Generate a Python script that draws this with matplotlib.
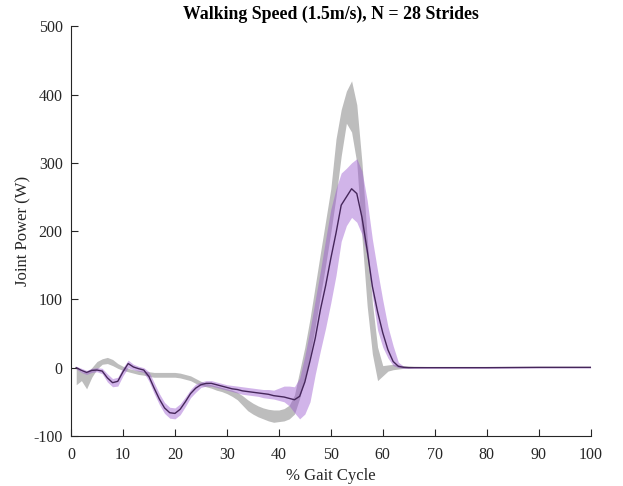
import numpy as np
import matplotlib
matplotlib.use("Agg")
import matplotlib.pyplot as plt

# =========================
# Data
# =========================
gait = list(range(1, 67)) + [70, 80, 90, 100]

power_mean = [
    0, -4, -7, -4, -3.5, -5, -15, -22, -20, -6,
    6, 1, -1.5, -3.5, -13, -30, -46, -59, -66, -67,
    -61, -50, -38, -30, -25, -23, -23, -25, -27, -29,
    -31, -32, -34, -35, -36, -37, -38, -39, -41, -42,
    -43, -45, -47, -42, -21, 10, 43, 85, 120, 160,
    197, 238, 250, 262, 255, 220, 172, 119, 82, 51,
    26, 9, 2, 0.5, 0, 0, 0, 0, 0.5, 0.5,
]
power_hi = [
    2, -1, -4, -1, 0, -1, -9, -16, -14, 0,
    11, 5, 2, 0, -6, -22, -38, -51, -58, -59,
    -53, -43, -32, -24, -21, -19, -19, -21, -23, -25,
    -26, -27, -28, -29, -30, -31, -32, -32, -33, -30,
    -27, -27, -28, -15, 17, 56, 99, 142, 188, 232,
    262, 285, 292, 300, 306, 288, 245, 188, 142, 99,
    60, 32, 8, 2, 1, 1, 1, 1, 1, 1,
]
power_lo = [
    -2, -7, -10, -7, -6, -9, -21, -28, -27, -12,
    0, -3, -5, -7, -20, -38, -54, -67, -74, -75,
    -69, -57, -44, -36, -29, -27, -27, -29, -31, -33,
    -35, -37, -39, -40, -41, -42, -44, -45, -46, -48,
    -50, -56, -66, -75, -68, -50, -10, 25, 58, 95,
    135, 185, 208, 220, 213, 195, 163, 105, 55, 30,
    14, 3, 0, -1, -1, -1, -1, -1, -0.5, -0.5,
]

# reference (normative) band
ref_hi = [
    0, -6, -7, 0, 9, 13, 15, 12, 6, 2,
    -1, -3, -4, -5, -6, -7, -7, -7, -7, -7,
    -8, -10, -12, -16, -20, -23, -25, -27, -29, -31,
    -33, -36, -41, -47, -52, -56, -59, -61, -62, -62,
    -60, -55, -40, -5, 30, 72, 120, 168, 215, 262,
    335, 378, 405, 420, 385, 300, 190, 95, 30, 3,
    4, 5, 4, 3, 2.5, 2, 1.5, 1, 1, 1,
]
ref_lo = [
    -25, -19, -31, -14, -2, 5, 6, 3, -1, -4,
    -6, -8, -10, -11, -13, -14, -14, -14, -14, -14,
    -15, -17, -19, -23, -26, -28, -30, -33, -35, -38,
    -42, -47, -55, -63, -68, -72, -75, -78, -80, -79,
    -78, -75, -68, -45, -15, 18, 60, 105, 150, 198,
    250, 310, 358, 345, 300, 190, 90, 20, -19, -12,
    -5, -3, -2, -1, -0.5, 0, 0, 0, 0, 0,
]

x_ticks = list(range(0, 101, 10))
y_ticks = list(range(-100, 501, 100))

# =========================
# Plot
# =========================
plt.rcParams["font.family"] = ["Liberation Serif", "DejaVu Serif"]
plt.rcParams["axes.unicode_minus"] = False

fig = plt.figure(figsize=(6.23, 4.86), dpi=100)
ax = fig.add_axes([0.114, 0.103, 0.834, 0.843])

ax.fill_between(gait, ref_lo, ref_hi, color="#bdbdbd", linewidth=0)
ax.fill_between(gait, power_lo, power_hi, color="#9b59d0", alpha=0.45, linewidth=0)
ax.plot(gait, power_mean, color="#45265a", linewidth=1.0)

ax.set_xlim(0, 100)
ax.set_ylim(-100, 500)
ax.set_xticks(x_ticks)
ax.set_yticks(y_ticks)
ax.tick_params(direction="in", length=5, width=0.8, colors="#262626",
               labelsize=11.5)
ax.tick_params(axis="x", pad=8)
ax.tick_params(axis="y", pad=6)
for s in ["top", "right"]:
    ax.spines[s].set_visible(False)
for s in ["left", "bottom"]:
    ax.spines[s].set_color("#262626")
    ax.spines[s].set_linewidth(0.8)

ax.set_xlabel("% Gait Cycle", fontsize=12, color="#262626")
ax.set_ylabel("Joint Power (W)", fontsize=12, color="#262626")
ax.xaxis.set_label_coords(0.5, -0.078)
ax.yaxis.set_label_coords(-0.076, 0.5)
ax.set_title("Walking Speed (1.5m/s), N = 28 Strides", fontsize=12.8,
             fontweight="bold", pad=5)

plt.savefig("out.png", dpi=100)
plt.close()
